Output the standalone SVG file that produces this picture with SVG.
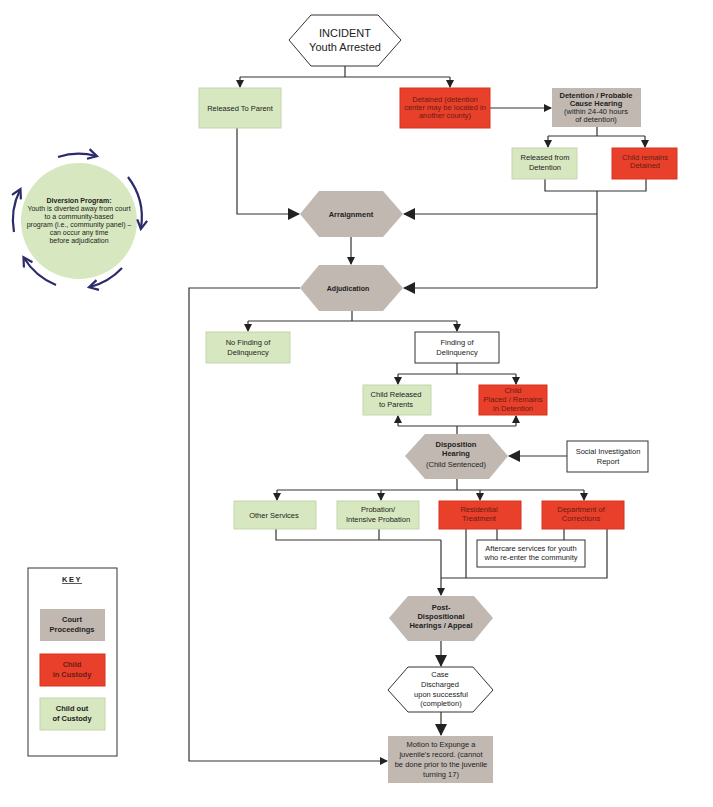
<svg xmlns="http://www.w3.org/2000/svg" width="713" height="807" viewBox="0 0 713 807">
<defs>
<marker id="a" markerWidth="8" markerHeight="8" refX="7" refY="4" orient="auto" markerUnits="userSpaceOnUse"><path d="M0,0 L8,4 L0,8 z" fill="#222"/></marker>
<marker id="b" markerWidth="12" markerHeight="12" refX="11" refY="6" orient="auto" markerUnits="userSpaceOnUse"><path d="M0,0 L12,6 L0,12 z" fill="#222"/></marker>
<marker id="c" markerWidth="12" markerHeight="12" refX="9" refY="6" orient="auto" markerUnits="userSpaceOnUse"><path d="M1,1 L10,6 L1,11" fill="none" stroke="#2b2a6b" stroke-width="2.2"/></marker>
<style>
text{font-family:"Liberation Sans",Arial,sans-serif;font-size:7.5px;fill:#222;text-anchor:middle}
.b{font-weight:bold}
.r text,text.r{fill:#6a1c12}
.g{fill:#d7e7c0;stroke:#c4d6ae;stroke-width:1}
.red{fill:#e8402a;stroke:#d8351f;stroke-width:1}
.gr{fill:#c1b8b2;stroke:none}
.w{fill:#fff;stroke:#333;stroke-width:1}
.ln{fill:none;stroke:#333;stroke-width:1.2}
.arc{fill:none;stroke:#2b2a6b;stroke-width:2.2}
</style>
</defs>
<rect width="713" height="807" fill="#fff"/>
<g id="connectors">
<path class="ln" d="M345,66 V77"/>
<path class="ln" d="M240,77 H450" />
<path class="ln" d="M240,77 V87" marker-end="url(#a)"/>
<path class="ln" d="M450,77 V87" marker-end="url(#a)"/>
<path class="ln" d="M490,108 H551" marker-end="url(#a)"/>
<path class="ln" d="M597,127 V136 M548,136 H645"/>
<path class="ln" d="M548,136 V147" marker-end="url(#a)"/>
<path class="ln" d="M645,136 V147" marker-end="url(#a)"/>
<path class="ln" d="M545,179 V191 H646 V179 M597,191 V288"/>
<path class="ln" d="M237,128 V214 H299" marker-end="url(#b)"/>
<path class="ln" d="M597,214 H404" marker-end="url(#b)"/>
<path class="ln" d="M351,237 V264" marker-end="url(#a)"/>
<path class="ln" d="M597,288 H404" marker-end="url(#b)"/>
<path class="ln" d="M300,288 H189 V761 H387" marker-end="url(#a)"/>
<path class="ln" d="M352,310 V321 M248,321 H457"/>
<path class="ln" d="M248,321 V331" marker-end="url(#a)"/>
<path class="ln" d="M457,321 V331" marker-end="url(#a)"/>
<path class="ln" d="M457,363 V374 M398,374 H516"/>
<path class="ln" d="M398,374 V384" marker-end="url(#a)"/>
<path class="ln" d="M516,374 V384" marker-end="url(#a)"/>
<path class="ln" d="M457,434 V426 M398,426 H516"/>
<path class="ln" d="M398,426 V416" marker-end="url(#a)"/>
<path class="ln" d="M516,426 V416" marker-end="url(#a)"/>
<path class="ln" d="M567,456 H509" marker-end="url(#b)"/>
<path class="ln" d="M457,479 V490 M277,490 H584"/>
<path class="ln" d="M277,490 V500" marker-end="url(#a)"/>
<path class="ln" d="M381,490 V500" marker-end="url(#a)"/>
<path class="ln" d="M480,490 V500" marker-end="url(#a)"/>
<path class="ln" d="M584,490 V500" marker-end="url(#a)"/>
<path class="ln" d="M276,529 V540 H441 M379,529 V540"/>
<path class="ln" d="M466,529 V578 M441,578 H607 V529 M497,529 V540 M564,529 V540"/>
<path class="ln" d="M441,540 V595" marker-end="url(#a)"/>
<path class="ln" d="M441,641 V666" stroke-width="2" marker-end="url(#b)"/>
<path class="ln" d="M441,712 V735" stroke-width="2" marker-end="url(#b)"/>
</g>
<g id="incident"><polygon class="w" points="289,40 311,15 378,15 401,40 378,66 311,66"/><text x="345" y="37" style="font-size:11px">INCIDENT</text><text x="345" y="51" style="font-size:11px">Youth Arrested</text></g>
<g id="released-parent"><rect class="g" x="199" y="88" width="82" height="40"/><text x="240" y="111">Released To Parent</text></g>
<g id="detained" class="r"><rect class="red" x="400" y="88" width="90" height="40"/><text x="445" y="102">Detained (detention</text><text x="445" y="110">center may be located in</text><text x="445" y="118">another county)</text></g>
<g id="detention-hearing"><rect class="gr" x="552" y="88" width="89" height="39"/><text class="b" x="596" y="98">Detention / Probable</text><text class="b" x="596" y="106">Cause Hearing</text><text x="596" y="114">(within 24-40 hours</text><text x="596" y="122">of detention)</text></g>
<g id="released-detention"><rect class="g" x="512" y="148" width="65" height="31"/><text x="545" y="160">Released from</text><text x="545" y="170">Detention</text></g>
<g id="remains-detained" class="r"><rect class="red" x="612" y="148" width="65" height="31"/><text x="645" y="160">Child remains</text><text x="645" y="168">Detained</text></g>
<g id="arraignment"><polygon class="gr" points="300,214 319,191 383,191 403,214 383,237 319,237"/><text class="b" x="351" y="217">Arraignment</text></g>
<g id="adjudication"><polygon class="gr" points="300,288 319,265 383,265 403,288 383,311 319,311"/><text class="b" x="348" y="291" style="font-size:7px">Adjudication</text></g>
<g id="no-finding"><rect class="g" x="206" y="332" width="84" height="31"/><text x="248" y="345">No Finding of</text><text x="248" y="355">Delinquency</text></g>
<g id="finding"><rect class="w" x="415" y="332" width="84" height="31"/><text x="457" y="345">Finding of</text><text x="457" y="355">Delinquency</text></g>
<g id="child-released"><rect class="g" x="363" y="385" width="68" height="30"/><text x="396" y="397">Child Released</text><text x="396" y="407">to Parents</text></g>
<g id="child-placed" class="r"><rect class="red" x="479" y="385" width="68" height="30"/><text x="513" y="393">Child</text><text x="513" y="402">Placed / Remains</text><text x="513" y="411">in Detention</text></g>
<g id="disposition"><polygon class="gr" points="405,456 425,434 489,434 508,456 489,479 425,479"/><text class="b" x="456" y="447">Disposition</text><text class="b" x="456" y="456">Hearing</text><text x="456" y="467">(Child Sentenced)</text></g>
<g id="social"><rect class="w" x="567" y="441" width="81" height="31"/><text x="608" y="454">Social Investigation</text><text x="608" y="464">Report</text></g>
<g id="other"><rect class="g" x="234" y="501" width="82" height="28"/><text x="274" y="518">Other Services</text></g>
<g id="probation"><rect class="g" x="337" y="501" width="82" height="28"/><text x="378" y="512">Probation/</text><text x="378" y="522">Intensive Probation</text></g>
<g id="residential" class="r"><rect class="red" x="439" y="501" width="82" height="28"/><text x="479" y="512">Residential</text><text x="479" y="521">Treatment</text></g>
<g id="corrections" class="r"><rect class="red" x="542" y="501" width="82" height="28"/><text x="581" y="512">Department of</text><text x="581" y="521">Corrections</text></g>
<g id="aftercare"><rect class="w" x="477" y="540" width="108" height="27"/><text x="531" y="551">Aftercare services for youth</text><text x="531" y="560">who re-enter the community</text></g>
<g id="post"><polygon class="gr" points="389,618 408,596 474,596 493,618 474,641 408,641"/><text class="b" x="441" y="610">Post-</text><text class="b" x="441" y="619">Dispositional</text><text class="b" x="441" y="628">Hearings / Appeal</text></g>
<g id="case"><polygon class="w" points="388,690 408,667 473,667 493,690 473,712 408,712"/><text x="440" y="677">Case</text><text x="440" y="687">Discharged</text><text x="441" y="697">upon successful</text><text x="441" y="706">(completion)</text></g>
<g id="motion"><rect class="gr" x="388" y="736" width="105" height="47"/><text x="441" y="747">Motion to Expunge a</text><text x="441" y="757">juvenile's record. (cannot</text><text x="441" y="767">be done prior to the juvenile</text><text x="441" y="777">turning 17)</text></g>
<g id="diversion">
<circle cx="79" cy="221" r="58" fill="#d7e7c0"/>
<path class="arc" d="M58,157 A67,67 0 0 1 96,156" marker-end="url(#c)"/>
<path class="arc" d="M128,177 A67,67 0 0 1 141,228" marker-end="url(#c)"/>
<path class="arc" d="M122,268 A67,67 0 0 1 90,287" marker-end="url(#c)"/>
<path class="arc" d="M56,285 A67,67 0 0 1 24,258" marker-end="url(#c)"/>
<path class="arc" d="M14,232 A67,67 0 0 1 20,190" marker-end="url(#c)"/>
<text class="b" x="79" y="203" style="font-size:7px">Diversion Program:</text>
<text x="79" y="211" style="font-size:7px">Youth is diverted away from court</text>
<text x="79" y="219" style="font-size:7px">to a community-based</text>
<text x="79" y="227" style="font-size:7px">program (i.e., community panel) –</text>
<text x="79" y="235" style="font-size:7px">can occur any time</text>
<text x="79" y="243" style="font-size:7px">before adjudication</text>
</g>
<g id="key">
<rect x="28" y="568" width="89" height="188" fill="#fff" stroke="#333" stroke-width="1"/>
<text class="b" x="72" y="582" text-decoration="underline" style="letter-spacing:1.5px">KEY</text>
<rect class="gr" x="40" y="609" width="65" height="32"/><text class="b" x="72" y="622">Court</text><text class="b" x="72" y="632">Proceedings</text>
<rect class="red" x="40" y="654" width="65" height="32"/><text class="b r" x="72" y="667">Child</text><text class="b r" x="72" y="677">in Custody</text>
<rect class="g" x="40" y="698" width="65" height="32"/><text class="b" x="72" y="711">Child out</text><text class="b" x="72" y="721">of Custody</text>
</g>
</svg>
